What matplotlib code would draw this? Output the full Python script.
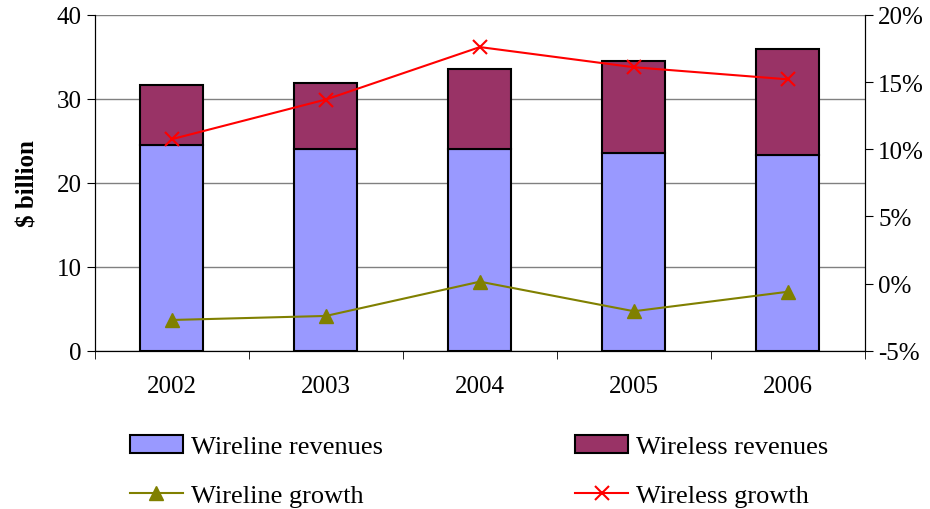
import matplotlib
matplotlib.use("Agg")
import matplotlib.pyplot as plt
import numpy as np
from matplotlib.ticker import FuncFormatter

plt.rcParams['font.family'] = ['Liberation Serif', 'DejaVu Serif']

years = ["2002", "2003", "2004", "2005", "2006"]
wireline_rev = [24.5, 24.0, 24.0, 23.6, 23.3]
wireless_rev = [7.2, 7.9, 9.6, 10.9, 12.65]
wireline_growth = [-2.7, -2.4, 0.15, -2.05, -0.6]
wireless_growth = [10.75, 13.7, 17.6, 16.1, 15.2]

fig = plt.figure(figsize=(9.3, 5.1), dpi=100)
ax = fig.add_axes([0.102, 0.31, 0.828, 0.659])
x = np.arange(len(years))

# stacked bars on the left axis
b1 = ax.bar(x, wireline_rev, 0.41, color='#9999ff', edgecolor='black', linewidth=1.5,
            label='Wireline revenues', zorder=3)
b2 = ax.bar(x, wireless_rev, 0.41, bottom=wireline_rev, color='#993366', edgecolor='black',
            linewidth=1.5, label='Wireless revenues', zorder=3)
ax.set_ylim(0, 40)
ax.set_xlim(-0.5, len(years) - 0.5)
ax.set_yticks([0, 10, 20, 30, 40])
ax.yaxis.grid(True, color='#808080', linewidth=1)
ax.set_axisbelow(True)
ax.set_xticks(x)
ax.set_xticklabels(years)
ax.set_xticks(np.arange(-0.5, len(years)), minor=True)
ax.tick_params(axis='x', which='major', length=0, labelsize=18, pad=17)
ax.tick_params(axis='x', which='minor', length=6, direction='out')
ax.tick_params(axis='y', labelsize=18, length=6, direction='out')
ax.set_ylabel('$ billion', fontsize=18, fontweight='bold', labelpad=12)
ax.spines['top'].set_visible(False)

# growth lines on the right axis
ax2 = ax.twinx()
l1, = ax2.plot(x, wireline_growth, color='#808000', marker='^', markersize=10, linewidth=1.5,
               label='Wireline growth', zorder=4)
l2, = ax2.plot(x, wireless_growth, color='red', marker='x', markersize=10, markeredgewidth=1.5,
               linewidth=1.5, label='Wireless growth', zorder=4)
ax2.set_ylim(-5, 20)
ax2.set_yticks([-5, 0, 5, 10, 15, 20])
ax2.yaxis.set_major_formatter(FuncFormatter(lambda v, p: '%d%%' % v))
ax2.tick_params(axis='y', labelsize=18, length=6, direction='out')
ax2.spines['top'].set_visible(False)

# legend filled column by column, so order handles to get rows right
fig.legend([b1, l1, b2, l2],
           ['Wireline revenues', 'Wireline growth', 'Wireless revenues', 'Wireless growth'],
           loc='lower left', bbox_to_anchor=(130 / 930, 2 / 510), ncol=2, frameon=False,
           fontsize=19, borderpad=0, borderaxespad=0,
           columnspacing=7.3, labelspacing=0.95, handlelength=2.0, handletextpad=0.3)

fig.savefig('out.png', dpi=100)
